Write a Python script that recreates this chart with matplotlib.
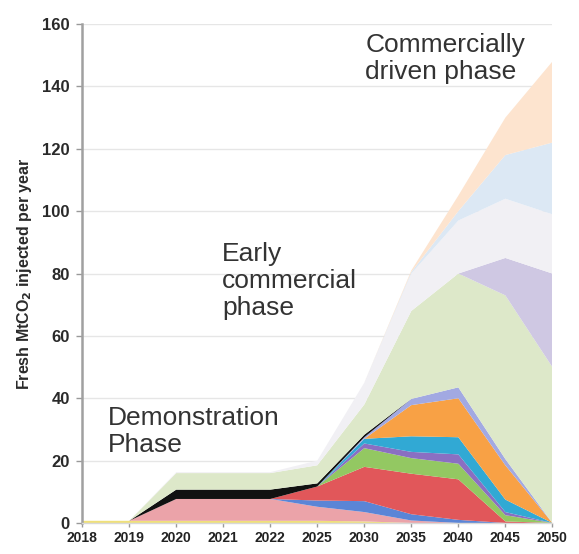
import matplotlib
matplotlib.use("Agg")
import matplotlib.pyplot as plt
import numpy as np

plt.rcParams['font.family'] = ['Liberation Sans', 'DejaVu Sans']

years = ["2018", "2019", "2020", "2021", "2022", "2025", "2030", "2035", "2040", "2045", "2050"]

# Project-level injection, stacked from the baseline upward (Mt CO2 / yr)
yellow   = [0.7, 0.7, 0.7, 0.7, 0.7, 0.7, 0.5, 0.0, 0.0, 0.0, 0.0]
pink     = [0.0, 0.0, 7.0, 7.0, 7.0, 4.5, 3.0, 0.8, 0.0, 0.0, 0.0]
blue     = [0.0, 0.0, 0.0, 0.0, 0.0, 2.0, 3.5, 2.0, 1.0, 0.0, 0.0]
red      = [0.0, 0.0, 0.0, 0.0, 0.0, 4.5, 11.0, 13.0, 13.0, 0.5, 0.0]
green    = [0.0, 0.0, 0.0, 0.0, 0.0, 0.0, 6.0, 5.0, 5.0, 2.0, 0.0]
purple   = [0.0, 0.0, 0.0, 0.0, 0.0, 0.0, 1.5, 2.0, 3.0, 1.0, 0.0]
teal     = [0.0, 0.0, 0.0, 0.0, 0.0, 0.0, 1.5, 5.0, 5.5, 4.0, 0.0]
orange   = [0.0, 0.0, 0.0, 0.0, 0.0, 0.0, 0.0, 10.0, 12.5, 11.0, 0.0]
lavender = [0.0, 0.0, 0.0, 0.0, 0.0, 0.0, 0.5, 2.0, 3.5, 2.0, 0.0]
black    = [0.0, 0.0, 3.0, 3.0, 3.0, 1.0, 0.8, 0.0, 0.0, 0.0, 0.0]
# Later, larger-scale clusters
pale_green  = [0.0, 0.0, 5.3, 5.3, 5.3, 5.8, 9.7, 28.2, 36.5, 52.5, 50.0]
pale_purple = [0.0, 0.0, 0.0, 0.0, 0.0, 0.0, 0.0, 0.0, 0.0, 12.0, 30.0]
pale_grey   = [0.0, 0.0, 0.3, 0.3, 0.3, 1.5, 7.0, 12.0, 17.0, 19.0, 19.0]
pale_blue   = [0.0, 0.0, 0.0, 0.0, 0.0, 0.0, 0.0, 0.5, 3.0, 14.0, 23.0]
pale_peach  = [0.0, 0.0, 0.0, 0.0, 0.0, 0.0, 0.0, 0.5, 5.0, 12.0, 26.0]

series = [yellow, pink, blue, red, green, purple, teal, orange, lavender, black,
          pale_green, pale_purple, pale_grey, pale_blue, pale_peach]
colors = ["#efe07a", "#eba3a9", "#5a85d6", "#e1575a", "#93c862", "#8a6fc2",
          "#31a9d4", "#f8a145", "#a2a9e2", "#111111",
          "#dde8c9", "#cfc8e3", "#f1f0f4", "#dce8f4", "#fde4cf"]

x = np.arange(len(years))

fig = plt.figure(figsize=(5.79, 5.54), dpi=100)
ax = fig.add_axes([0.142, 0.056, 0.812, 0.9005])

ax.yaxis.grid(True, color="#e6e6e6", linewidth=1.0)
ax.set_axisbelow(True)
ax.stackplot(x, *series, colors=colors, linewidth=0)

ax.set_xlim(0, len(years) - 1)
ax.set_ylim(0, 160)
ax.set_xticks(x)
ax.set_xticklabels(years, fontsize=10, fontweight="bold")
ax.set_yticks(np.arange(0, 161, 20))
ax.tick_params(axis="y", labelsize=12, color="#999999", labelcolor="#2a2a2a",
               length=4, width=1, pad=5)
for lbl in ax.get_yticklabels():
    lbl.set_fontweight("bold")
ax.tick_params(axis="x", color="#999999", labelcolor="#222222",
               length=3, width=1, pad=3)

for side in ("top", "right"):
    ax.spines[side].set_visible(False)
ax.spines["left"].set_color("#a0a0a0")
ax.spines["left"].set_linewidth(1.8)
ax.spines["bottom"].set_color("#d8d8d8")
ax.spines["bottom"].set_linewidth(1.0)

ax.set_ylabel(r"Fresh MtCO$_\mathbf{2}$ injected per year", fontsize=11.5,
              fontweight="bold", color="#2a2a2a", labelpad=6)

phase_kw = dict(fontsize=19, color="#333333", ha="left", va="top", linespacing=1.15)
ax.text(6.02, 157.0, "Commercially\ndriven phase", **phase_kw)
ax.text(2.98, 90.0, "Early\ncommercial\nphase", **phase_kw)
ax.text(0.55, 37.5, "Demonstration\nPhase", **phase_kw)

fig.savefig("out.png", dpi=100, facecolor="white")
